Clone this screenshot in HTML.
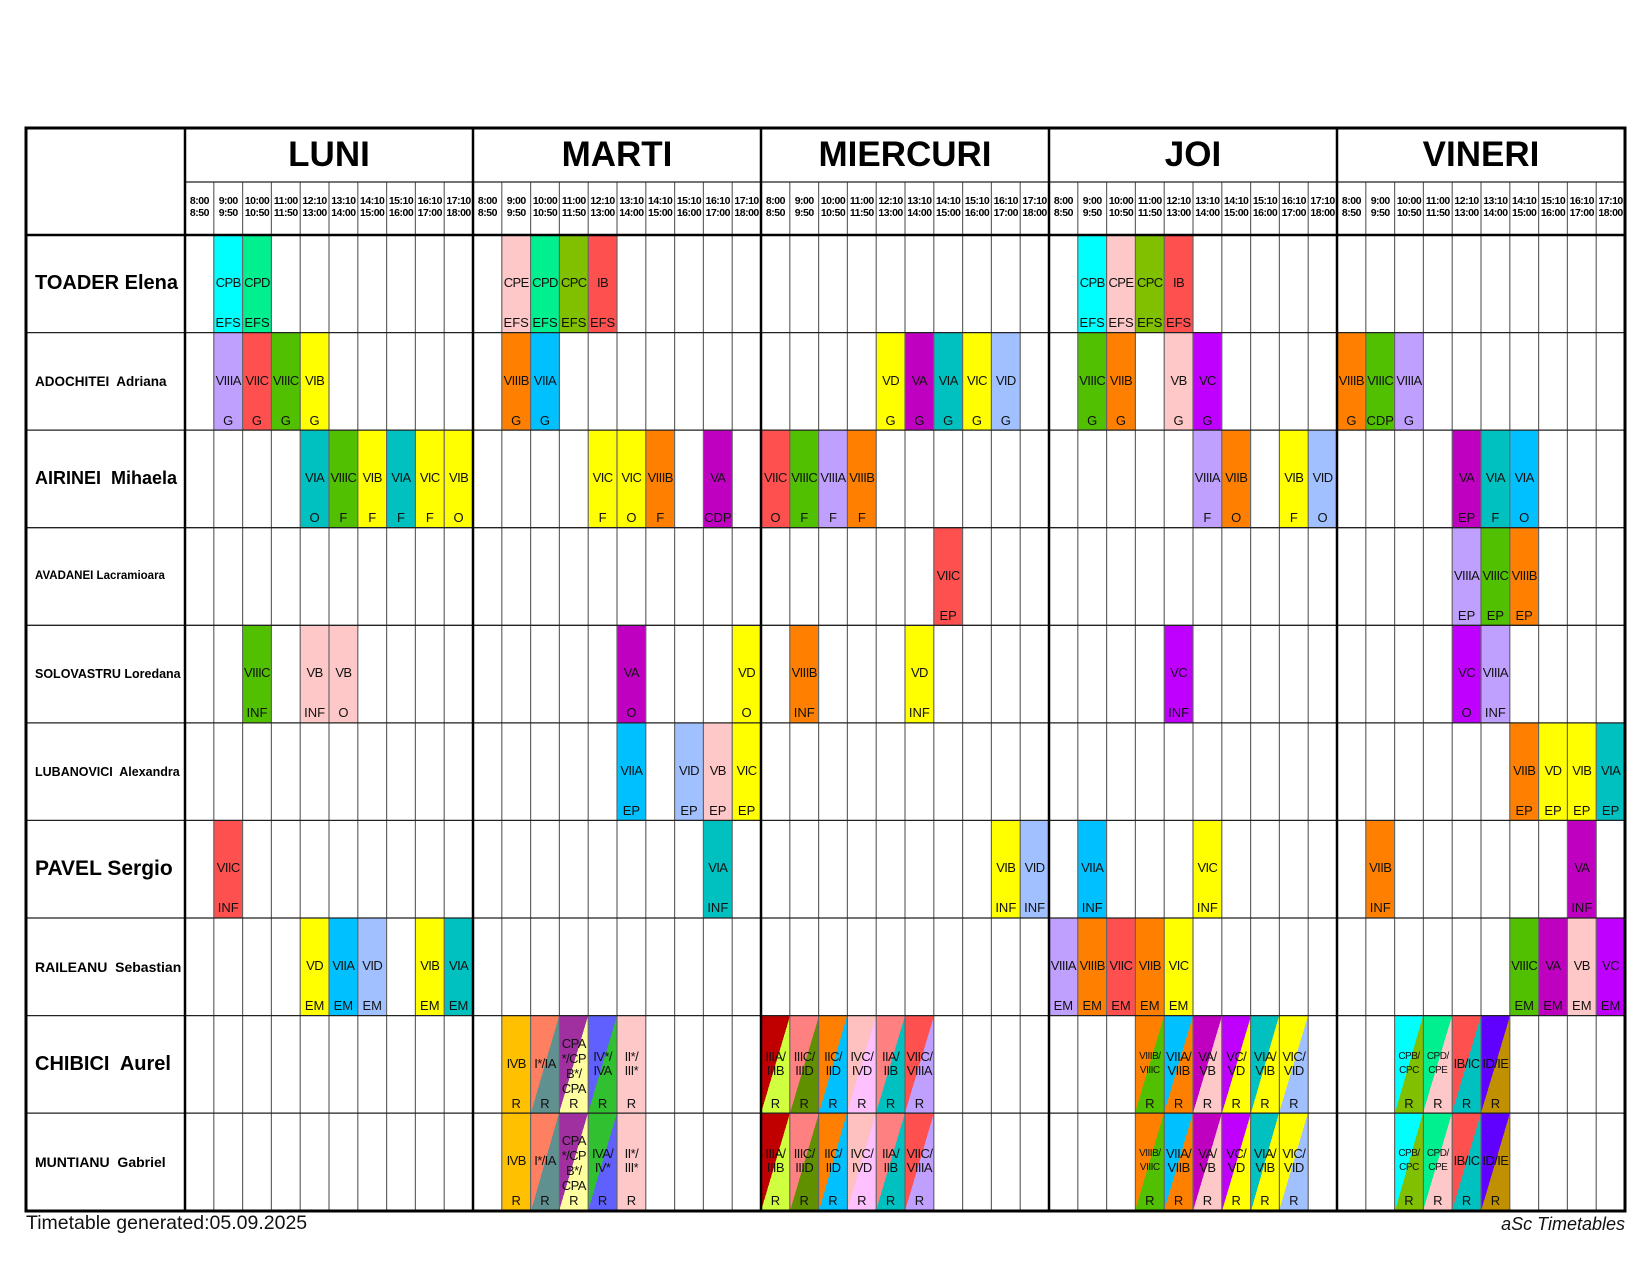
<!DOCTYPE html>
<html><head><meta charset="utf-8">
<style>
*{margin:0;padding:0;box-sizing:border-box}
body{width:1650px;height:1275px;background:#fff;position:relative;overflow:hidden;font-family:"Liberation Sans",Arial,sans-serif}
.b{position:absolute;width:28.8px;height:97.6px;font-size:13px;text-align:center;color:#111;z-index:1}
.b i{font-style:normal;position:absolute;left:-5px;right:-5px;top:41px;line-height:14px;letter-spacing:-0.6px;white-space:nowrap}
.b i.w{top:34px}
.b i.f{top:20px;line-height:15px}
.b i.s{font-size:10px;letter-spacing:-0.5px}
.b u{text-decoration:none;position:absolute;left:-4px;right:-4px;top:81px;line-height:14px}
.d{position:absolute;top:128px;height:54px;width:288px;text-align:center;font-weight:bold;font-size:35px;line-height:54px;color:#000}
.t{position:absolute;top:195px;width:28.8px;text-align:center;font-weight:bold;font-size:10.5px;line-height:12px;letter-spacing:-0.5px;white-space:nowrap}
.n{position:absolute;left:35px;width:148px;height:97.6px;display:flex;align-items:center;font-weight:bold;white-space:nowrap;color:#000}
svg{position:absolute;left:0;top:0;z-index:2}
</style></head><body>

<div class="d" style="left:185px">LUNI</div>
<div class="d" style="left:473px">MARTI</div>
<div class="d" style="left:761px">MIERCURI</div>
<div class="d" style="left:1049px">JOI</div>
<div class="d" style="left:1337px">VINERI</div>

<div id="times">
<div class="t" style="left:185px">8:00<br>8:50</div><div class="t" style="left:213.8px">9:00<br>9:50</div><div class="t" style="left:242.6px">10:00<br>10:50</div><div class="t" style="left:271.4px">11:00<br>11:50</div><div class="t" style="left:300.2px">12:10<br>13:00</div><div class="t" style="left:329px">13:10<br>14:00</div><div class="t" style="left:357.8px">14:10<br>15:00</div><div class="t" style="left:386.6px">15:10<br>16:00</div><div class="t" style="left:415.4px">16:10<br>17:00</div><div class="t" style="left:444.2px">17:10<br>18:00</div>
<div class="t" style="left:473px">8:00<br>8:50</div><div class="t" style="left:501.8px">9:00<br>9:50</div><div class="t" style="left:530.6px">10:00<br>10:50</div><div class="t" style="left:559.4px">11:00<br>11:50</div><div class="t" style="left:588.2px">12:10<br>13:00</div><div class="t" style="left:617px">13:10<br>14:00</div><div class="t" style="left:645.8px">14:10<br>15:00</div><div class="t" style="left:674.6px">15:10<br>16:00</div><div class="t" style="left:703.4px">16:10<br>17:00</div><div class="t" style="left:732.2px">17:10<br>18:00</div>
<div class="t" style="left:761px">8:00<br>8:50</div><div class="t" style="left:789.8px">9:00<br>9:50</div><div class="t" style="left:818.6px">10:00<br>10:50</div><div class="t" style="left:847.4px">11:00<br>11:50</div><div class="t" style="left:876.2px">12:10<br>13:00</div><div class="t" style="left:905px">13:10<br>14:00</div><div class="t" style="left:933.8px">14:10<br>15:00</div><div class="t" style="left:962.6px">15:10<br>16:00</div><div class="t" style="left:991.4px">16:10<br>17:00</div><div class="t" style="left:1020.2px">17:10<br>18:00</div>
<div class="t" style="left:1049px">8:00<br>8:50</div><div class="t" style="left:1077.8px">9:00<br>9:50</div><div class="t" style="left:1106.6px">10:00<br>10:50</div><div class="t" style="left:1135.4px">11:00<br>11:50</div><div class="t" style="left:1164.2px">12:10<br>13:00</div><div class="t" style="left:1193px">13:10<br>14:00</div><div class="t" style="left:1221.8px">14:10<br>15:00</div><div class="t" style="left:1250.6px">15:10<br>16:00</div><div class="t" style="left:1279.4px">16:10<br>17:00</div><div class="t" style="left:1308.2px">17:10<br>18:00</div>
<div class="t" style="left:1337px">8:00<br>8:50</div><div class="t" style="left:1365.8px">9:00<br>9:50</div><div class="t" style="left:1394.6px">10:00<br>10:50</div><div class="t" style="left:1423.4px">11:00<br>11:50</div><div class="t" style="left:1452.2px">12:10<br>13:00</div><div class="t" style="left:1481px">13:10<br>14:00</div><div class="t" style="left:1509.8px">14:10<br>15:00</div><div class="t" style="left:1538.6px">15:10<br>16:00</div><div class="t" style="left:1567.4px">16:10<br>17:00</div><div class="t" style="left:1596.2px">17:10<br>18:00</div>
</div>

<div class="n" style="top:235px;font-size:20px">TOADER Elena</div>
<div class="n" style="top:332.6px;font-size:13.5px">ADOCHITEI&nbsp; Adriana</div>
<div class="n" style="top:430.1px;font-size:18px">AIRINEI&nbsp; Mihaela</div>
<div class="n" style="top:527.7px;font-size:11.5px">AVADANEI Lacramioara</div>
<div class="n" style="top:625.3px;font-size:12.5px">SOLOVASTRU Loredana</div>
<div class="n" style="top:722.9px;font-size:12.5px">LUBANOVICI&nbsp; Alexandra</div>
<div class="n" style="top:820.4px;font-size:21px">PAVEL Sergio</div>
<div class="n" style="top:918px;font-size:14px">RAILEANU&nbsp; Sebastian</div>
<div class="n" style="top:1015.6px;font-size:20px">CHIBICI&nbsp; Aurel</div>
<div class="n" style="top:1113.1px;font-size:14px">MUNTIANU&nbsp; Gabriel</div>

<div class="b" style="left:213.8px;top:235px;background:#00ffff"><i>CPB</i><u>EFS</u></div>
<div class="b" style="left:242.6px;top:235px;background:#00f090"><i>CPD</i><u>EFS</u></div>
<div class="b" style="left:501.8px;top:235px;background:#ffc8c8"><i>CPE</i><u>EFS</u></div>
<div class="b" style="left:530.6px;top:235px;background:#00f090"><i>CPD</i><u>EFS</u></div>
<div class="b" style="left:559.4px;top:235px;background:#80c000"><i>CPC</i><u>EFS</u></div>
<div class="b" style="left:588.2px;top:235px;background:#ff5050"><i>IB</i><u>EFS</u></div>
<div class="b" style="left:1077.8px;top:235px;background:#00ffff"><i>CPB</i><u>EFS</u></div>
<div class="b" style="left:1106.6px;top:235px;background:#ffc8c8"><i>CPE</i><u>EFS</u></div>
<div class="b" style="left:1135.4px;top:235px;background:#80c000"><i>CPC</i><u>EFS</u></div>
<div class="b" style="left:1164.2px;top:235px;background:#ff5050"><i>IB</i><u>EFS</u></div>

<div class="b" style="left:213.8px;top:332.6px;background:#c0a0ff"><i>VIIIA</i><u>G</u></div>
<div class="b" style="left:242.6px;top:332.6px;background:#ff5050"><i>VIIC</i><u>G</u></div>
<div class="b" style="left:271.4px;top:332.6px;background:#50c000"><i>VIIIC</i><u>G</u></div>
<div class="b" style="left:300.2px;top:332.6px;background:#ffff00"><i>VIB</i><u>G</u></div>
<div class="b" style="left:501.8px;top:332.6px;background:#ff8000"><i>VIIIB</i><u>G</u></div>
<div class="b" style="left:530.6px;top:332.6px;background:#00c0ff"><i>VIIA</i><u>G</u></div>
<div class="b" style="left:876.2px;top:332.6px;background:#ffff00"><i>VD</i><u>G</u></div>
<div class="b" style="left:905px;top:332.6px;background:#c000c0"><i>VA</i><u>G</u></div>
<div class="b" style="left:933.8px;top:332.6px;background:#00c0c0"><i>VIA</i><u>G</u></div>
<div class="b" style="left:962.6px;top:332.6px;background:#ffff00"><i>VIC</i><u>G</u></div>
<div class="b" style="left:991.4px;top:332.6px;background:#a0c0ff"><i>VID</i><u>G</u></div>
<div class="b" style="left:1077.8px;top:332.6px;background:#50c000"><i>VIIIC</i><u>G</u></div>
<div class="b" style="left:1106.6px;top:332.6px;background:#ff8000"><i>VIIB</i><u>G</u></div>
<div class="b" style="left:1164.2px;top:332.6px;background:#ffc8c8"><i>VB</i><u>G</u></div>
<div class="b" style="left:1193px;top:332.6px;background:#c000ff"><i>VC</i><u>G</u></div>
<div class="b" style="left:1337px;top:332.6px;background:#ff8000"><i>VIIIB</i><u>G</u></div>
<div class="b" style="left:1365.8px;top:332.6px;background:#50c000"><i>VIIIC</i><u>CDP</u></div>
<div class="b" style="left:1394.6px;top:332.6px;background:#c0a0ff"><i>VIIIA</i><u>G</u></div>

<div class="b" style="left:300.2px;top:430.1px;background:#00c0c0"><i>VIA</i><u>O</u></div>
<div class="b" style="left:329px;top:430.1px;background:#50c000"><i>VIIIC</i><u>F</u></div>
<div class="b" style="left:357.8px;top:430.1px;background:#ffff00"><i>VIB</i><u>F</u></div>
<div class="b" style="left:386.6px;top:430.1px;background:#00c0c0"><i>VIA</i><u>F</u></div>
<div class="b" style="left:415.4px;top:430.1px;background:#ffff00"><i>VIC</i><u>F</u></div>
<div class="b" style="left:444.2px;top:430.1px;background:#ffff00"><i>VIB</i><u>O</u></div>
<div class="b" style="left:588.2px;top:430.1px;background:#ffff00"><i>VIC</i><u>F</u></div>
<div class="b" style="left:617px;top:430.1px;background:#ffff00"><i>VIC</i><u>O</u></div>
<div class="b" style="left:645.8px;top:430.1px;background:#ff8000"><i>VIIIB</i><u>F</u></div>
<div class="b" style="left:703.4px;top:430.1px;background:#c000c0"><i>VA</i><u>CDP</u></div>
<div class="b" style="left:761px;top:430.1px;background:#ff5050"><i>VIIC</i><u>O</u></div>
<div class="b" style="left:789.8px;top:430.1px;background:#50c000"><i>VIIIC</i><u>F</u></div>
<div class="b" style="left:818.6px;top:430.1px;background:#c0a0ff"><i>VIIIA</i><u>F</u></div>
<div class="b" style="left:847.4px;top:430.1px;background:#ff8000"><i>VIIIB</i><u>F</u></div>
<div class="b" style="left:1193px;top:430.1px;background:#c0a0ff"><i>VIIIA</i><u>F</u></div>
<div class="b" style="left:1221.8px;top:430.1px;background:#ff8000"><i>VIIB</i><u>O</u></div>
<div class="b" style="left:1279.4px;top:430.1px;background:#ffff00"><i>VIB</i><u>F</u></div>
<div class="b" style="left:1308.2px;top:430.1px;background:#a0c0ff"><i>VID</i><u>O</u></div>
<div class="b" style="left:1452.2px;top:430.1px;background:#c000c0"><i>VA</i><u>EP</u></div>
<div class="b" style="left:1481px;top:430.1px;background:#00c0c0"><i>VIA</i><u>F</u></div>
<div class="b" style="left:1509.8px;top:430.1px;background:#00c0ff"><i>VIA</i><u>O</u></div>

<div class="b" style="left:933.8px;top:527.7px;background:#ff5050"><i>VIIC</i><u>EP</u></div>
<div class="b" style="left:1452.2px;top:527.7px;background:#c0a0ff"><i>VIIIA</i><u>EP</u></div>
<div class="b" style="left:1481px;top:527.7px;background:#50c000"><i>VIIIC</i><u>EP</u></div>
<div class="b" style="left:1509.8px;top:527.7px;background:#ff8000"><i>VIIIB</i><u>EP</u></div>

<div class="b" style="left:242.6px;top:625.3px;background:#50c000"><i>VIIIC</i><u>INF</u></div>
<div class="b" style="left:300.2px;top:625.3px;background:#ffc8c8"><i>VB</i><u>INF</u></div>
<div class="b" style="left:329px;top:625.3px;background:#ffc8c8"><i>VB</i><u>O</u></div>
<div class="b" style="left:617px;top:625.3px;background:#c000c0"><i>VA</i><u>O</u></div>
<div class="b" style="left:732.2px;top:625.3px;background:#ffff00"><i>VD</i><u>O</u></div>
<div class="b" style="left:789.8px;top:625.3px;background:#ff8000"><i>VIIIB</i><u>INF</u></div>
<div class="b" style="left:905px;top:625.3px;background:#ffff00"><i>VD</i><u>INF</u></div>
<div class="b" style="left:1164.2px;top:625.3px;background:#c000ff"><i>VC</i><u>INF</u></div>
<div class="b" style="left:1452.2px;top:625.3px;background:#c000ff"><i>VC</i><u>O</u></div>
<div class="b" style="left:1481px;top:625.3px;background:#c0a0ff"><i>VIIIA</i><u>INF</u></div>

<div class="b" style="left:617px;top:722.9px;background:#00c0ff"><i>VIIA</i><u>EP</u></div>
<div class="b" style="left:674.6px;top:722.9px;background:#a0c0ff"><i>VID</i><u>EP</u></div>
<div class="b" style="left:703.4px;top:722.9px;background:#ffc8c8"><i>VB</i><u>EP</u></div>
<div class="b" style="left:732.2px;top:722.9px;background:#ffff00"><i>VIC</i><u>EP</u></div>
<div class="b" style="left:1509.8px;top:722.9px;background:#ff8000"><i>VIIB</i><u>EP</u></div>
<div class="b" style="left:1538.6px;top:722.9px;background:#ffff00"><i>VD</i><u>EP</u></div>
<div class="b" style="left:1567.4px;top:722.9px;background:#ffff00"><i>VIB</i><u>EP</u></div>
<div class="b" style="left:1596.2px;top:722.9px;background:#00c0c0"><i>VIA</i><u>EP</u></div>

<div class="b" style="left:213.8px;top:820.4px;background:#ff5050"><i>VIIC</i><u>INF</u></div>
<div class="b" style="left:703.4px;top:820.4px;background:#00c0c0"><i>VIA</i><u>INF</u></div>
<div class="b" style="left:991.4px;top:820.4px;background:#ffff00"><i>VIB</i><u>INF</u></div>
<div class="b" style="left:1020.2px;top:820.4px;background:#a0c0ff"><i>VID</i><u>INF</u></div>
<div class="b" style="left:1077.8px;top:820.4px;background:#00c0ff"><i>VIIA</i><u>INF</u></div>
<div class="b" style="left:1193px;top:820.4px;background:#ffff00"><i>VIC</i><u>INF</u></div>
<div class="b" style="left:1365.8px;top:820.4px;background:#ff8000"><i>VIIB</i><u>INF</u></div>
<div class="b" style="left:1567.4px;top:820.4px;background:#c000c0"><i>VA</i><u>INF</u></div>

<div class="b" style="left:300.2px;top:918px;background:#ffff00"><i>VD</i><u>EM</u></div>
<div class="b" style="left:329px;top:918px;background:#00c0ff"><i>VIIA</i><u>EM</u></div>
<div class="b" style="left:357.8px;top:918px;background:#a0c0ff"><i>VID</i><u>EM</u></div>
<div class="b" style="left:415.4px;top:918px;background:#ffff00"><i>VIB</i><u>EM</u></div>
<div class="b" style="left:444.2px;top:918px;background:#00c0c0"><i>VIA</i><u>EM</u></div>
<div class="b" style="left:1049px;top:918px;background:#c0a0ff"><i>VIIIA</i><u>EM</u></div>
<div class="b" style="left:1077.8px;top:918px;background:#ff8000"><i>VIIIB</i><u>EM</u></div>
<div class="b" style="left:1106.6px;top:918px;background:#ff5050"><i>VIIC</i><u>EM</u></div>
<div class="b" style="left:1135.4px;top:918px;background:#ff8000"><i>VIIB</i><u>EM</u></div>
<div class="b" style="left:1164.2px;top:918px;background:#ffff00"><i>VIC</i><u>EM</u></div>
<div class="b" style="left:1509.8px;top:918px;background:#50c000"><i>VIIIC</i><u>EM</u></div>
<div class="b" style="left:1538.6px;top:918px;background:#c000c0"><i>VA</i><u>EM</u></div>
<div class="b" style="left:1567.4px;top:918px;background:#ffc8c8"><i>VB</i><u>EM</u></div>
<div class="b" style="left:1596.2px;top:918px;background:#c000ff"><i>VC</i><u>EM</u></div>

<div class="b" style="left:501.8px;top:1015.6px;background:#ffc000"><i>IVB</i><u>R</u></div>
<div class="b" style="left:530.6px;top:1015.6px;background:linear-gradient(to bottom right,#ff8060 50%,#609090 50%)"><i>I*/IA</i><u>R</u></div>
<div class="b" style="left:559.4px;top:1015.6px;background:linear-gradient(to bottom right,#a030a0 50%,#ffffa0 50%)"><i class="f">CPA<br>*/CP<br>B*/<br>CPA</i><u>R</u></div>
<div class="b" style="left:588.2px;top:1015.6px;background:linear-gradient(to bottom right,#6060ff 50%,#30c030 50%)"><i class="w">IV*/<br>IVA</i><u>R</u></div>
<div class="b" style="left:617px;top:1015.6px;background:#ffc8c8"><i class="w">II*/<br>III*</i><u>R</u></div>
<div class="b" style="left:761px;top:1015.6px;background:linear-gradient(to bottom right,#c00000 50%,#d0ff40 50%)"><i class="w">IIIA/<br>IIIB</i><u>R</u></div>
<div class="b" style="left:789.8px;top:1015.6px;background:linear-gradient(to bottom right,#ff8080 50%,#609000 50%)"><i class="w">IIIC/<br>IIID</i><u>R</u></div>
<div class="b" style="left:818.6px;top:1015.6px;background:linear-gradient(to bottom right,#ff8000 50%,#00c0ff 50%)"><i class="w">IIC/<br>IID</i><u>R</u></div>
<div class="b" style="left:847.4px;top:1015.6px;background:linear-gradient(to bottom right,#ffc0c0 50%,#ffc0ff 50%)"><i class="w">IVC/<br>IVD</i><u>R</u></div>
<div class="b" style="left:876.2px;top:1015.6px;background:linear-gradient(to bottom right,#ff8080 50%,#00c0c0 50%)"><i class="w">IIA/<br>IIB</i><u>R</u></div>
<div class="b" style="left:905px;top:1015.6px;background:linear-gradient(to bottom right,#ff5050 50%,#c0a0ff 50%)"><i class="w">VIIC/<br>VIIIA</i><u>R</u></div>
<div class="b" style="left:1135.4px;top:1015.6px;background:linear-gradient(to bottom right,#ff8000 50%,#50c000 50%)"><i class="w s">VIIIB/<br>VIIIC</i><u>R</u></div>
<div class="b" style="left:1164.2px;top:1015.6px;background:linear-gradient(to bottom right,#00c0ff 50%,#ff8000 50%)"><i class="w">VIIA/<br>VIIB</i><u>R</u></div>
<div class="b" style="left:1193px;top:1015.6px;background:linear-gradient(to bottom right,#c000c0 50%,#ffc8c8 50%)"><i class="w">VA/<br>VB</i><u>R</u></div>
<div class="b" style="left:1221.8px;top:1015.6px;background:linear-gradient(to bottom right,#c000ff 50%,#ffff00 50%)"><i class="w">VC/<br>VD</i><u>R</u></div>
<div class="b" style="left:1250.6px;top:1015.6px;background:linear-gradient(to bottom right,#00c0c0 50%,#ffff00 50%)"><i class="w">VIA/<br>VIB</i><u>R</u></div>
<div class="b" style="left:1279.4px;top:1015.6px;background:linear-gradient(to bottom right,#ffff00 50%,#a0c0ff 50%)"><i class="w">VIC/<br>VID</i><u>R</u></div>
<div class="b" style="left:1394.6px;top:1015.6px;background:linear-gradient(to bottom right,#00ffff 50%,#80c000 50%)"><i class="w s">CPB/<br>CPC</i><u>R</u></div>
<div class="b" style="left:1423.4px;top:1015.6px;background:linear-gradient(to bottom right,#00f090 50%,#ffc8c8 50%)"><i class="w s">CPD/<br>CPE</i><u>R</u></div>
<div class="b" style="left:1452.2px;top:1015.6px;background:linear-gradient(to bottom right,#ff5050 50%,#00c0c0 50%)"><i>IB/IC</i><u>R</u></div>
<div class="b" style="left:1481px;top:1015.6px;background:linear-gradient(to bottom right,#6000ff 50%,#c09000 50%)"><i>ID/IE</i><u>R</u></div>

<div class="b" style="left:501.8px;top:1113.1px;background:#ffc000"><i>IVB</i><u>R</u></div>
<div class="b" style="left:530.6px;top:1113.1px;background:linear-gradient(to bottom right,#ff8060 50%,#609090 50%)"><i>I*/IA</i><u>R</u></div>
<div class="b" style="left:559.4px;top:1113.1px;background:linear-gradient(to bottom right,#a030a0 50%,#ffffa0 50%)"><i class="f">CPA<br>*/CP<br>B*/<br>CPA</i><u>R</u></div>
<div class="b" style="left:588.2px;top:1113.1px;background:linear-gradient(to bottom right,#30c030 50%,#6060ff 50%)"><i class="w">IVA/<br>IV*</i><u>R</u></div>
<div class="b" style="left:617px;top:1113.1px;background:#ffc8c8"><i class="w">II*/<br>III*</i><u>R</u></div>
<div class="b" style="left:761px;top:1113.1px;background:linear-gradient(to bottom right,#c00000 50%,#d0ff40 50%)"><i class="w">IIIA/<br>IIIB</i><u>R</u></div>
<div class="b" style="left:789.8px;top:1113.1px;background:linear-gradient(to bottom right,#ff8080 50%,#609000 50%)"><i class="w">IIIC/<br>IIID</i><u>R</u></div>
<div class="b" style="left:818.6px;top:1113.1px;background:linear-gradient(to bottom right,#ff8000 50%,#00c0ff 50%)"><i class="w">IIC/<br>IID</i><u>R</u></div>
<div class="b" style="left:847.4px;top:1113.1px;background:linear-gradient(to bottom right,#ffc0c0 50%,#ffc0ff 50%)"><i class="w">IVC/<br>IVD</i><u>R</u></div>
<div class="b" style="left:876.2px;top:1113.1px;background:linear-gradient(to bottom right,#ff8080 50%,#00c0c0 50%)"><i class="w">IIA/<br>IIB</i><u>R</u></div>
<div class="b" style="left:905px;top:1113.1px;background:linear-gradient(to bottom right,#ff5050 50%,#c0a0ff 50%)"><i class="w">VIIC/<br>VIIIA</i><u>R</u></div>
<div class="b" style="left:1135.4px;top:1113.1px;background:linear-gradient(to bottom right,#ff8000 50%,#50c000 50%)"><i class="w s">VIIIB/<br>VIIIC</i><u>R</u></div>
<div class="b" style="left:1164.2px;top:1113.1px;background:linear-gradient(to bottom right,#00c0ff 50%,#ff8000 50%)"><i class="w">VIIA/<br>VIIB</i><u>R</u></div>
<div class="b" style="left:1193px;top:1113.1px;background:linear-gradient(to bottom right,#c000c0 50%,#ffc8c8 50%)"><i class="w">VA/<br>VB</i><u>R</u></div>
<div class="b" style="left:1221.8px;top:1113.1px;background:linear-gradient(to bottom right,#c000ff 50%,#ffff00 50%)"><i class="w">VC/<br>VD</i><u>R</u></div>
<div class="b" style="left:1250.6px;top:1113.1px;background:linear-gradient(to bottom right,#00c0c0 50%,#ffff00 50%)"><i class="w">VIA/<br>VIB</i><u>R</u></div>
<div class="b" style="left:1279.4px;top:1113.1px;background:linear-gradient(to bottom right,#ffff00 50%,#a0c0ff 50%)"><i class="w">VIC/<br>VID</i><u>R</u></div>
<div class="b" style="left:1394.6px;top:1113.1px;background:linear-gradient(to bottom right,#00ffff 50%,#80c000 50%)"><i class="w s">CPB/<br>CPC</i><u>R</u></div>
<div class="b" style="left:1423.4px;top:1113.1px;background:linear-gradient(to bottom right,#00f090 50%,#ffc8c8 50%)"><i class="w s">CPD/<br>CPE</i><u>R</u></div>
<div class="b" style="left:1452.2px;top:1113.1px;background:linear-gradient(to bottom right,#ff5050 50%,#00c0c0 50%)"><i>IB/IC</i><u>R</u></div>
<div class="b" style="left:1481px;top:1113.1px;background:linear-gradient(to bottom right,#6000ff 50%,#c09000 50%)"><i>ID/IE</i><u>R</u></div>

<svg width="1650" height="1275">
<g stroke="#666" stroke-width="1.2">
<path d="M213.8 182V1211M242.6 182V1211M271.4 182V1211M300.2 182V1211M329 182V1211M357.8 182V1211M386.6 182V1211M415.4 182V1211M444.2 182V1211
M501.8 182V1211M530.6 182V1211M559.4 182V1211M588.2 182V1211M617 182V1211M645.8 182V1211M674.6 182V1211M703.4 182V1211M732.2 182V1211
M789.8 182V1211M818.6 182V1211M847.4 182V1211M876.2 182V1211M905 182V1211M933.8 182V1211M962.6 182V1211M991.4 182V1211M1020.2 182V1211
M1077.8 182V1211M1106.6 182V1211M1135.4 182V1211M1164.2 182V1211M1193 182V1211M1221.8 182V1211M1250.6 182V1211M1279.4 182V1211M1308.2 182V1211
M1365.8 182V1211M1394.6 182V1211M1423.4 182V1211M1452.2 182V1211M1481 182V1211M1509.8 182V1211M1538.6 182V1211M1567.4 182V1211M1596.2 182V1211"/>
</g>
<g stroke="#222" stroke-width="1.3">
<path d="M185 182H1625M26 332.6H1625M26 430.1H1625M26 527.7H1625M26 625.3H1625M26 722.9H1625M26 820.4H1625M26 918H1625M26 1015.6H1625M26 1113.1H1625"/>
</g>
<g stroke="#000" stroke-width="2.5">
<path d="M185 128V1211M473 128V1211M761 128V1211M1049 128V1211M1337 128V1211M26 235H1625"/>
</g>
<rect x="26" y="128" width="1599" height="1083" fill="none" stroke="#000" stroke-width="3"/>
</svg>

<div style="position:absolute;left:26px;top:1212px;font-size:19.5px;color:#111;white-space:nowrap">Timetable generated:05.09.2025</div>
<div style="position:absolute;right:25px;top:1214px;font-size:18px;font-style:italic;color:#111;white-space:nowrap">aSc Timetables</div>
</body></html>
